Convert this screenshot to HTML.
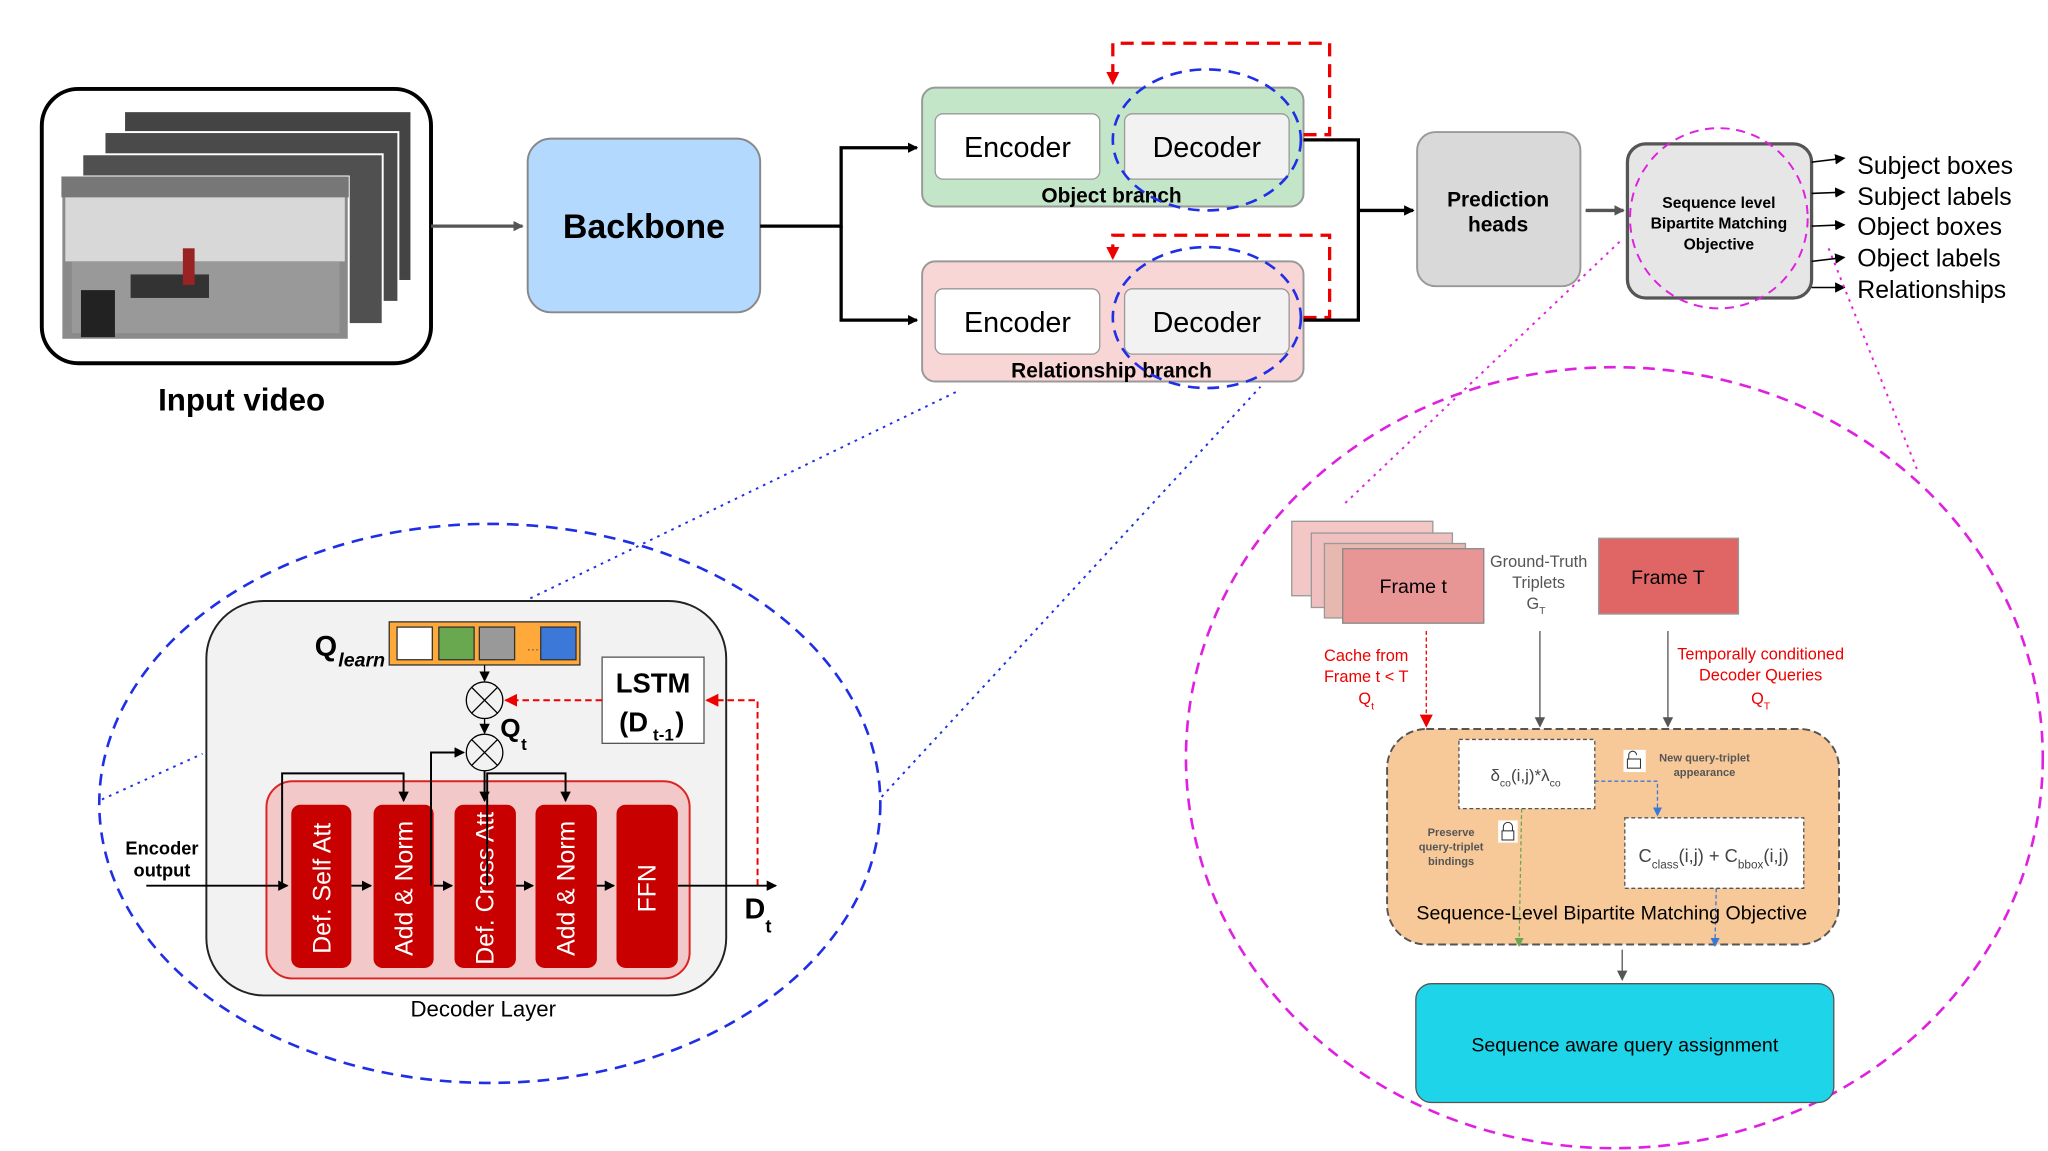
<!DOCTYPE html>
<html><head><meta charset="utf-8"><style>
html,body{margin:0;padding:0;background:#fff;}
svg{display:block;}
text{font-family:"Liberation Sans",sans-serif;}
</style></head><body>
<svg width="2048" height="1151" viewBox="0 0 1568 881" xmlns="http://www.w3.org/2000/svg">
<defs>
<marker id="ab" markerWidth="8" markerHeight="8" refX="7" refY="4" orient="auto" markerUnits="userSpaceOnUse"><path d="M0,0 L8,4 L0,8 z" fill="#000"/></marker>
<marker id="ag" markerWidth="8" markerHeight="8" refX="7" refY="4" orient="auto" markerUnits="userSpaceOnUse"><path d="M0,0 L8,4 L0,8 z" fill="#555"/></marker>
<marker id="ar" markerWidth="10" markerHeight="10" refX="9" refY="5" orient="auto" markerUnits="userSpaceOnUse"><path d="M0,0 L10,5 L0,10 z" fill="#e00"/></marker>
<marker id="abl" markerWidth="7" markerHeight="7" refX="6" refY="3.5" orient="auto" markerUnits="userSpaceOnUse"><path d="M0,0 L7,3.5 L0,7 z" fill="#3a78d8"/></marker>
<marker id="agr" markerWidth="7" markerHeight="7" refX="6" refY="3.5" orient="auto" markerUnits="userSpaceOnUse"><path d="M0,0 L7,3.5 L0,7 z" fill="#6aa84f"/></marker>
</defs>

<!-- input video -->
<rect x="32" y="68" width="298" height="210" rx="28" fill="#fff" stroke="#000" stroke-width="3"/>
<g stroke="#fff" stroke-width="1.5">
<rect x="95" y="85" width="220" height="130" fill="#444"/>
<rect x="80" y="101" width="225" height="130" fill="#4a4a4a"/>
<rect x="63" y="118" width="230" height="130" fill="#505050"/>
<rect x="47" y="135" width="220" height="125" fill="#8a8a8a"/>
</g>
<rect x="50" y="150" width="214" height="50" fill="#d8d8d8"/>
<rect x="47" y="135" width="220" height="16" fill="#777"/>
<rect x="55" y="200" width="205" height="55" fill="#999"/>
<rect x="62" y="222" width="26" height="36" fill="#222"/>
<rect x="100" y="210" width="60" height="18" fill="#333"/>
<rect x="140" y="190" width="9" height="28" fill="#922"/>
<text x="185" y="314" font-size="24" font-weight="bold" text-anchor="middle">Input video</text>
<line x1="330" y1="173" x2="400" y2="173" stroke="#555" stroke-width="2.5" marker-end="url(#ag)"/>

<!-- backbone -->
<rect x="404" y="106" width="178" height="133" rx="18" fill="#b3d9ff" stroke="#888" stroke-width="1.5"/>
<text x="493" y="182" font-size="26" font-weight="bold" text-anchor="middle">Backbone</text>
<polyline points="582,173 644,173 644,113 702,113" fill="none" stroke="#000" stroke-width="2.5" marker-end="url(#ab)"/>
<polyline points="644,173 644,245 702,245" fill="none" stroke="#000" stroke-width="2.5" marker-end="url(#ab)"/>

<!-- object branch -->
<rect x="706" y="67" width="292" height="91" rx="10" fill="#c3e6c8" stroke="#999" stroke-width="1.5"/>
<rect x="716" y="87" width="126" height="50" rx="6" fill="#fff" stroke="#999"/>
<text x="779" y="120" font-size="22" text-anchor="middle">Encoder</text>
<rect x="861" y="87" width="126" height="50" rx="6" fill="#f2f2f2" stroke="#999"/>
<text x="924" y="120" font-size="22" text-anchor="middle">Decoder</text>
<text x="851" y="155" font-size="16" font-weight="bold" text-anchor="middle">Object branch</text>
<ellipse cx="924" cy="107" rx="72" ry="54" fill="none" stroke="#1f2fe6" stroke-width="2" stroke-dasharray="9,6"/>
<polyline points="998,103 1018,103 1018,33 852,33 852,64" fill="none" stroke="#e00" stroke-width="2.5" stroke-dasharray="10,6" marker-end="url(#ar)"/>

<!-- relationship branch -->
<rect x="706" y="200" width="292" height="92" rx="10" fill="#f8d6d6" stroke="#999" stroke-width="1.5"/>
<rect x="716" y="221" width="126" height="50" rx="6" fill="#fff" stroke="#999"/>
<text x="779" y="254" font-size="22" text-anchor="middle">Encoder</text>
<rect x="861" y="221" width="126" height="50" rx="6" fill="#f2f2f2" stroke="#999"/>
<text x="924" y="254" font-size="22" text-anchor="middle">Decoder</text>
<text x="851" y="289" font-size="16" font-weight="bold" text-anchor="middle">Relationship branch</text>
<ellipse cx="924" cy="243" rx="72" ry="54" fill="none" stroke="#1f2fe6" stroke-width="2" stroke-dasharray="9,6"/>
<polyline points="998,243 1018,243 1018,180 852,180 852,198" fill="none" stroke="#e00" stroke-width="2.5" stroke-dasharray="10,6" marker-end="url(#ar)"/>

<polyline points="998,107 1040,107 1040,245 998,245" fill="none" stroke="#000" stroke-width="2.5"/>
<line x1="1040" y1="161" x2="1082" y2="161" stroke="#000" stroke-width="2.5" marker-end="url(#ab)"/>

<!-- prediction heads -->
<rect x="1085" y="101" width="125" height="118" rx="14" fill="#d9d9d9" stroke="#999" stroke-width="1.5"/>
<text x="1147" y="158" font-size="16" font-weight="bold" text-anchor="middle">Prediction</text>
<text x="1147" y="177" font-size="16" font-weight="bold" text-anchor="middle">heads</text>
<line x1="1214" y1="161" x2="1243" y2="161" stroke="#555" stroke-width="2.5" marker-end="url(#ag)"/>

<rect x="1246" y="110" width="141" height="118" rx="14" fill="#e6e6e6" stroke="#555" stroke-width="2.5"/>
<text x="1316" y="159" font-size="12" font-weight="bold" text-anchor="middle">Sequence level</text>
<text x="1316" y="175" font-size="12" font-weight="bold" text-anchor="middle">Bipartite Matching</text>
<text x="1316" y="191" font-size="12" font-weight="bold" text-anchor="middle">Objective</text>
<ellipse cx="1316" cy="167" rx="68" ry="69" fill="none" stroke="#e020e0" stroke-width="1.5" stroke-dasharray="7,5"/>
<g stroke="#000" stroke-width="1.2">
<line x1="1387" y1="124" x2="1412" y2="121" marker-end="url(#ab)"/>
<line x1="1387" y1="148" x2="1412" y2="147" marker-end="url(#ab)"/>
<line x1="1387" y1="173" x2="1412" y2="172" marker-end="url(#ab)"/>
<line x1="1387" y1="200" x2="1412" y2="197" marker-end="url(#ab)"/>
<line x1="1387" y1="220" x2="1412" y2="220" marker-end="url(#ab)"/>
</g>
<g font-size="19">
<text x="1422" y="133">Subject boxes</text>
<text x="1422" y="157">Subject labels</text>
<text x="1422" y="180">Object boxes</text>
<text x="1422" y="204">Object labels</text>
<text x="1422" y="228">Relationships</text>
</g>

<!-- dotted connectors -->
<line x1="78" y1="612" x2="155" y2="577" stroke="#1f2fe6" stroke-width="1.5" stroke-dasharray="2,4"/>
<line x1="406" y1="458" x2="732" y2="300" stroke="#1f2fe6" stroke-width="1.5" stroke-dasharray="2,4"/>
<line x1="675" y1="610" x2="965" y2="296" stroke="#1f2fe6" stroke-width="1.5" stroke-dasharray="2,4"/>
<line x1="1240" y1="185" x2="1030" y2="385" stroke="#e020e0" stroke-width="1.5" stroke-dasharray="2,4"/>
<line x1="1400" y1="190" x2="1468" y2="360" stroke="#e020e0" stroke-width="1.5" stroke-dasharray="2,4"/>

<!-- decoder layer zoom -->
<ellipse cx="375" cy="615" rx="299" ry="214" fill="none" stroke="#1f2fe6" stroke-width="2" stroke-dasharray="9,6"/>
<rect x="158" y="460" width="398" height="302" rx="44" fill="#f2f2f2" stroke="#222" stroke-width="1.5"/>
<text x="370" y="778" font-size="17" text-anchor="middle">Decoder Layer</text>
<text x="241" y="502" font-size="22" font-weight="bold">Q</text>
<text x="259" y="510" font-size="15" font-weight="bold" font-style="italic">learn</text>
<rect x="298" y="476" width="146" height="33" fill="#ffa93a" stroke="#333"/>
<rect x="304" y="480" width="27" height="25" fill="#fff" stroke="#333"/>
<rect x="336" y="480" width="27" height="25" fill="#6aa84f" stroke="#333"/>
<rect x="367" y="480" width="27" height="25" fill="#999" stroke="#333"/>
<text x="403" y="498" font-size="10" fill="#555">…</text>
<rect x="414" y="480" width="27" height="25" fill="#3b78d8" stroke="#333"/>
<rect x="461" y="503" width="78" height="66" fill="#fff" stroke="#555"/>
<text x="500" y="530" font-size="21" font-weight="bold" text-anchor="middle">LSTM</text>
<text x="474" y="560" font-size="21" font-weight="bold">(D</text>
<text x="500" y="567" font-size="13" font-weight="bold">t-1</text>
<text x="517" y="560" font-size="21" font-weight="bold">)</text>
<line x1="371" y1="509" x2="371" y2="521" stroke="#000" marker-end="url(#ab)"/>
<circle cx="371" cy="536" r="14" fill="none" stroke="#000"/>
<path d="M361,526 L381,546 M381,526 L361,546" stroke="#000"/>
<line x1="371" y1="550" x2="371" y2="561" stroke="#000" marker-end="url(#ab)"/>
<circle cx="371" cy="576" r="14" fill="none" stroke="#000"/>
<path d="M361,566 L381,586 M381,566 L361,586" stroke="#000"/>
<text x="383" y="564" font-size="20" font-weight="bold">Q</text>
<text x="399" y="574" font-size="13" font-weight="bold">t</text>
<line x1="461" y1="536" x2="387" y2="536" stroke="#e00" stroke-width="1.5" stroke-dasharray="5,3" marker-end="url(#ar)"/>
<polyline points="580,678 580,536 541,536" fill="none" stroke="#e00" stroke-width="1.5" stroke-dasharray="5,3" marker-end="url(#ar)"/>
<rect x="204" y="598" width="324" height="151" rx="20" fill="#f2c8c8" stroke="#d22" stroke-width="1.5"/>
<g fill="#c80000">
<rect x="223" y="616" width="46" height="125" rx="7"/>
<rect x="286" y="616" width="46" height="125" rx="7"/>
<rect x="348" y="616" width="47" height="125" rx="7"/>
<rect x="410" y="616" width="47" height="125" rx="7"/>
<rect x="472" y="616" width="47" height="125" rx="7"/>
</g>
<g fill="#fff" font-size="19" text-anchor="middle">
<text transform="translate(253,680) rotate(-90)">Def. Self Att</text>
<text transform="translate(316,680) rotate(-90)">Add &amp; Norm</text>
<text transform="translate(378,680) rotate(-90)">Def. Cross Att</text>
<text transform="translate(440,680) rotate(-90)">Add &amp; Norm</text>
<text transform="translate(502,680) rotate(-90)">FFN</text>
</g>
<g stroke="#000" stroke-width="1.5" fill="none">
<line x1="112" y1="678" x2="220" y2="678" marker-end="url(#ab)"/>
<line x1="269" y1="678" x2="284" y2="678" marker-end="url(#ab)"/>
<line x1="332" y1="678" x2="346" y2="678" marker-end="url(#ab)"/>
<line x1="395" y1="678" x2="408" y2="678" marker-end="url(#ab)"/>
<line x1="457" y1="678" x2="470" y2="678" marker-end="url(#ab)"/>
<line x1="519" y1="678" x2="594" y2="678" marker-end="url(#ab)"/>
<polyline points="216,678 216,592 309,592 309,613" marker-end="url(#ab)"/>
<polyline points="330,678 330,576 355,576" marker-end="url(#ab)"/>
<polyline points="371,590 371,613" marker-end="url(#ab)"/>
<polyline points="373,678 373,592 433,592 433,613" marker-end="url(#ab)"/>
</g>
<text x="124" y="654" font-size="14" font-weight="bold" text-anchor="middle">Encoder</text>
<text x="124" y="671" font-size="14" font-weight="bold" text-anchor="middle">output</text>
<text x="570" y="703" font-size="22" font-weight="bold">D</text>
<text x="586" y="714" font-size="14" font-weight="bold">t</text>

<!-- right zoom -->
<ellipse cx="1236" cy="580" rx="328" ry="299" fill="none" stroke="#e020e0" stroke-width="2" stroke-dasharray="9,6"/>
<rect x="989" y="399" width="108" height="57" fill="#f4c7c7" stroke="#999"/>
<rect x="1004" y="408" width="108" height="57" fill="#f0c0c0" stroke="#999"/>
<rect x="1014" y="416" width="108" height="57" fill="#e6b8b0" stroke="#999"/>
<rect x="1028" y="420" width="108" height="57" fill="#e89595" stroke="#888"/>
<text x="1082" y="454" font-size="15" text-anchor="middle">Frame t</text>
<rect x="1224" y="412" width="107" height="58" fill="#e06666" stroke="#999"/>
<text x="1277" y="447" font-size="15" text-anchor="middle">Frame T</text>
<g font-size="12.5" fill="#555" text-anchor="middle">
<text x="1178" y="434">Ground-Truth</text>
<text x="1178" y="450">Triplets</text>
<text x="1176" y="466">G<tspan font-size="8" dy="4">T</tspan></text>
</g>
<g font-size="12.5" fill="#e00" text-anchor="middle">
<text x="1046" y="506">Cache from</text>
<text x="1046" y="522">Frame t &lt; T</text>
<text x="1046" y="539">Q<tspan font-size="8" dy="4">t</tspan></text>
<text x="1348" y="505">Temporally conditioned</text>
<text x="1348" y="521">Decoder Queries</text>
<text x="1348" y="539">Q<tspan font-size="8" dy="4">T</tspan></text>
</g>
<line x1="1092" y1="483" x2="1092" y2="556" stroke="#e00" stroke-dasharray="3,2" marker-end="url(#ar)"/>
<line x1="1179" y1="483" x2="1179" y2="556" stroke="#555" marker-end="url(#ag)"/>
<line x1="1277" y1="483" x2="1277" y2="556" stroke="#555" marker-end="url(#ag)"/>
<rect x="1062" y="558" width="346" height="165" rx="30" fill="#f8c998" stroke="#555" stroke-width="1.5" stroke-dasharray="6,3"/>
<rect x="1117" y="566" width="104" height="53" fill="#fff" stroke="#555" stroke-dasharray="3,2"/>
<text x="1168" y="598" font-size="13" fill="#444" text-anchor="middle">δ<tspan font-size="8" dy="4">co</tspan><tspan dy="-4">(i,j)*λ</tspan><tspan font-size="8" dy="4">co</tspan></text>
<rect x="1244" y="626" width="137" height="54" fill="#fff" stroke="#555" stroke-dasharray="3,2"/>
<text x="1312" y="660" font-size="14" fill="#444" text-anchor="middle">C<tspan font-size="9" dy="5">class</tspan><tspan dy="-5">(i,j) + C</tspan><tspan font-size="9" dy="5">bbox</tspan><tspan dy="-5">(i,j)</tspan></text>
<rect x="1243" y="574" width="17" height="17" fill="#fff"/>
<rect x="1246" y="581" width="10" height="7" fill="none" stroke="#333" stroke-width="0.8"/>
<path d="M1247,581 v-3 a3,3 0 0 1 6,0" fill="none" stroke="#333" stroke-width="0.8"/>
<rect x="1147" y="628" width="15" height="17" fill="#fff"/>
<rect x="1150" y="636" width="9" height="7" fill="none" stroke="#333" stroke-width="0.8"/>
<path d="M1151,636 v-3 a3.5,3.5 0 0 1 7,0 v3" fill="none" stroke="#333" stroke-width="0.8"/>
<g font-size="8.5" font-weight="bold" fill="#555" text-anchor="middle">
<text x="1305" y="583">New query-triplet</text>
<text x="1305" y="594">appearance</text>
<text x="1111" y="640">Preserve</text>
<text x="1111" y="651">query-triplet</text>
<text x="1111" y="662">bindings</text>
</g>
<polyline points="1221,598 1269,598 1269,624" fill="none" stroke="#3a78d8" stroke-dasharray="3,2" marker-end="url(#abl)"/>
<line x1="1165" y1="619" x2="1163" y2="724" stroke="#6aa84f" stroke-dasharray="3,2" marker-end="url(#agr)"/>
<line x1="1314" y1="680" x2="1313" y2="724" stroke="#3a78d8" stroke-dasharray="3,2" marker-end="url(#abl)"/>
<text x="1234" y="704" font-size="15" text-anchor="middle">Sequence-Level Bipartite Matching Objective</text>
<line x1="1242" y1="727" x2="1242" y2="750" stroke="#555" marker-end="url(#ag)"/>
<rect x="1084" y="753" width="320" height="91" rx="12" fill="#1ed4e8" stroke="#555"/>
<text x="1244" y="805" font-size="15" text-anchor="middle">Sequence aware query assignment</text>
</svg>
</body></html>
